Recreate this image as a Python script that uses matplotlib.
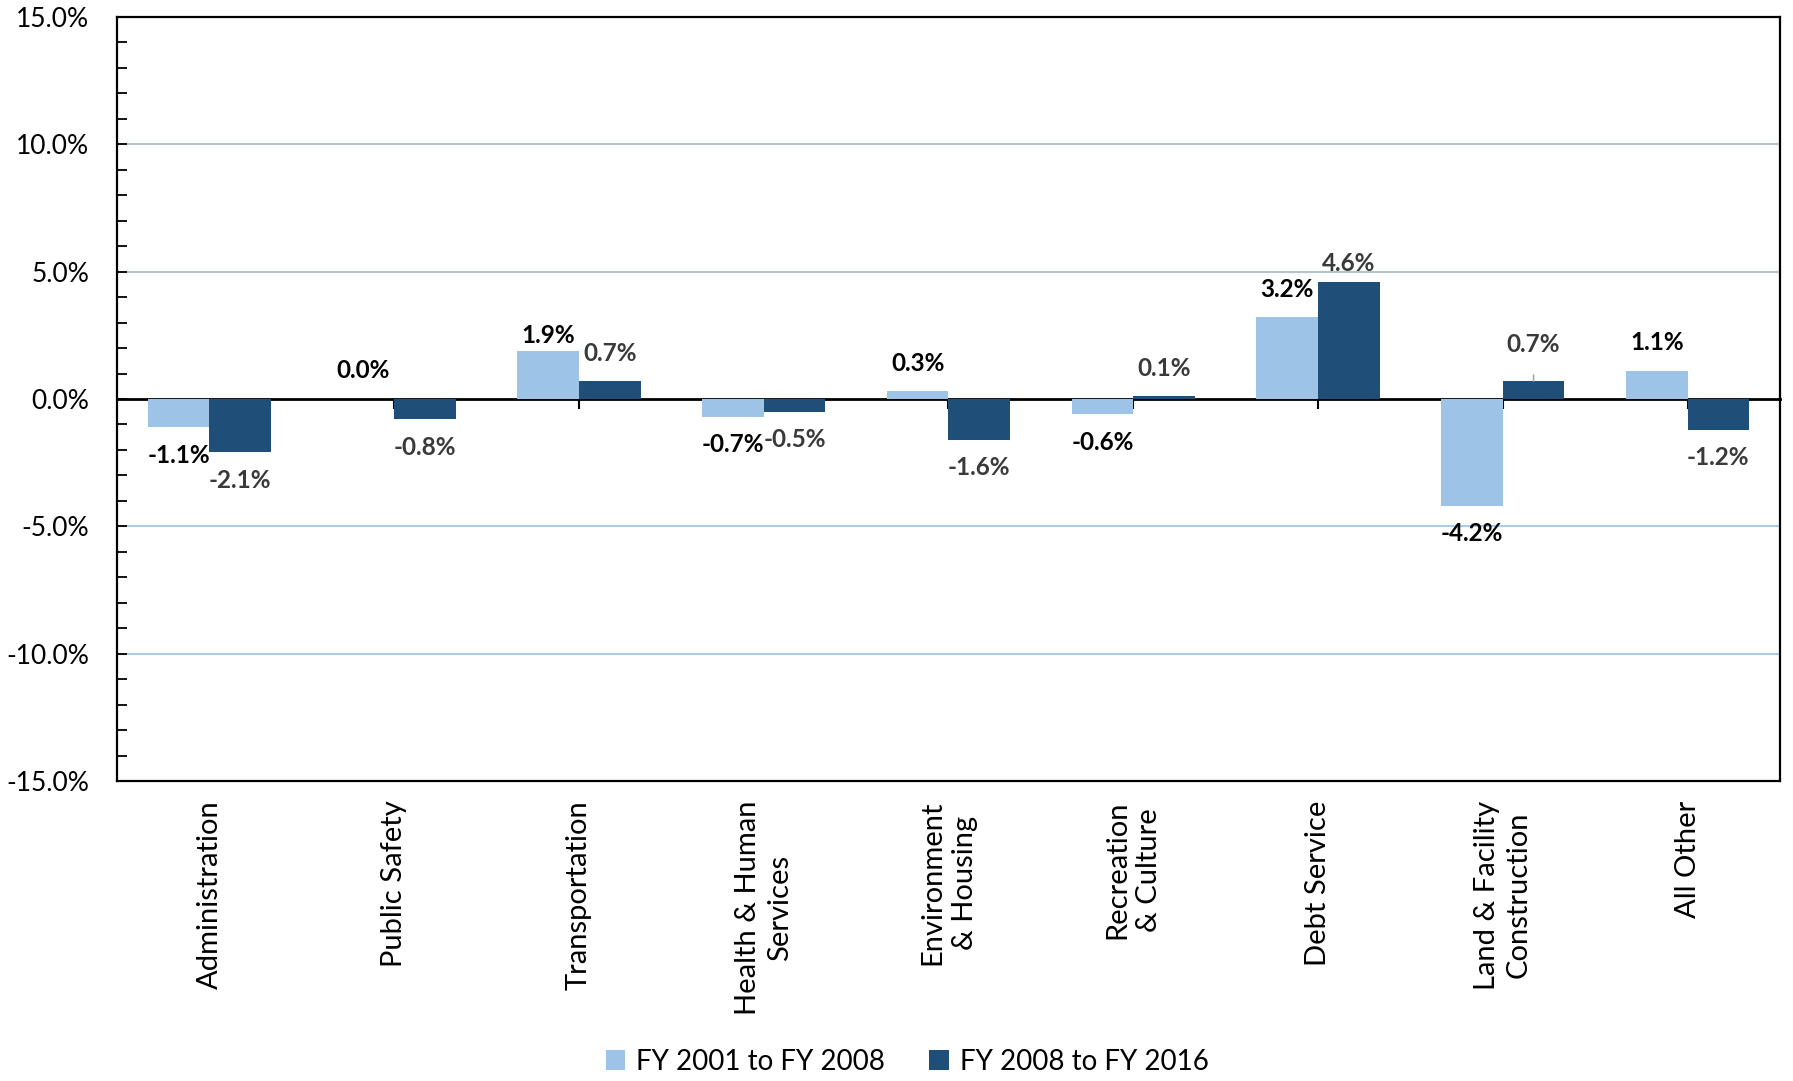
import matplotlib
matplotlib.use("Agg")
import matplotlib.pyplot as plt
from matplotlib.ticker import MultipleLocator, FuncFormatter
from matplotlib.patches import Patch
import numpy as np

plt.rcParams['font.family'] = ['Lato', 'DejaVu Sans']

categories = ["Administration", "Public Safety", "Transportation", "Health & Human\nServices",
              "Environment\n& Housing", "Recreation\n& Culture", "Debt Service",
              "Land & Facility\nConstruction", "All Other"]
series_names = ["FY 2001 to FY 2008", "FY 2008 to FY 2016"]
fy01_08 = [-1.1, 0.0, 1.9, -0.7, 0.3, -0.6, 3.2, -4.2, 1.1]
fy08_16 = [-2.1, -0.8, 0.7, -0.5, -1.6, 0.1, 4.6, 0.7, -1.2]
yticks = [-15, -10, -5, 0, 5, 10, 15]

light = '#9DC3E6'
dark = '#1F4E79'

fig = plt.figure(figsize=(17.93, 10.81), dpi=100)
ax = fig.add_axes([0.0653, 0.2775, 0.9274, 0.7068])

x = np.arange(len(categories))
w = 1 / 3
b1 = ax.bar(x - w / 2, fy01_08, width=w, color=light, linewidth=0, zorder=3)
b2 = ax.bar(x + w / 2, fy08_16, width=w, color=dark, linewidth=0, zorder=3)

ax.set_xlim(-0.5, len(categories) - 0.5)
ax.set_ylim(-15, 15)
ax.yaxis.set_major_locator(MultipleLocator(5))
ax.yaxis.set_minor_locator(MultipleLocator(1))
ax.yaxis.set_major_formatter(FuncFormatter(lambda v, p: f"{v:.1f}%"))
ax.tick_params(axis='y', which='both', direction='in', length=7, width=1.3, labelsize=19, pad=20)

# gridlines
for v in yticks:
    if v in (-15, 0, 15):
        continue
    ax.axhline(v, color='#B5C2CF' if v > 0 else '#A8CBEA', lw=1.5, zorder=1)

for s in ax.spines.values():
    s.set_color('black')
    s.set_linewidth(1.6)

ax.set_xticks(x)
ax.set_xticklabels(categories, rotation=90, ha='center', va='top', multialignment='center',
                   fontsize=21, linespacing=1.3)
ax.tick_params(axis='x', length=0, pad=14)

# zero line with category ticks
sec = ax.secondary_xaxis(0.5)
sec.set_xticks(x)
sec.set_xticklabels([])
sec.tick_params(axis='x', direction='in', length=7, width=1.5, color='black')
for s in sec.spines.values():
    s.set_linewidth(2)
    s.set_color('black')

# data labels
offsets = {(0, 2): 15, (1, 6): 18, (1, 7): 37}
for si, (bars, vals, col) in enumerate([(b1, fy01_08, 'black'), (b2, fy08_16, '#3A3A3A')]):
    for ci, (bar, v) in enumerate(zip(bars, vals)):
        off = offsets.get((si, ci), 28)
        sign = 1 if v >= 0 else -1
        xc = bar.get_x() + bar.get_width() / 2
        kw = {}
        if (si, ci) == (1, 7):
            kw['arrowprops'] = dict(arrowstyle='-', color='#A6A6A6', lw=1.2, shrinkA=12, shrinkB=0)
        ax.annotate(f"{v:.1f}%", xy=(xc, v), xytext=(0, sign * off), textcoords='offset pixels',
                    ha='center', va='center', fontsize=17.5, fontweight='bold', color=col, zorder=5, **kw)

handles = [Patch(facecolor=light, edgecolor='none'), Patch(facecolor=dark, edgecolor='none')]
fig.legend(handles, series_names, loc='center', bbox_to_anchor=(0.506, 0.018), ncol=2, frameon=False,
           fontsize=20, handlelength=0.7, handleheight=0.7, handletextpad=0.4, columnspacing=1.6)

fig.savefig('out.png', dpi=100)
